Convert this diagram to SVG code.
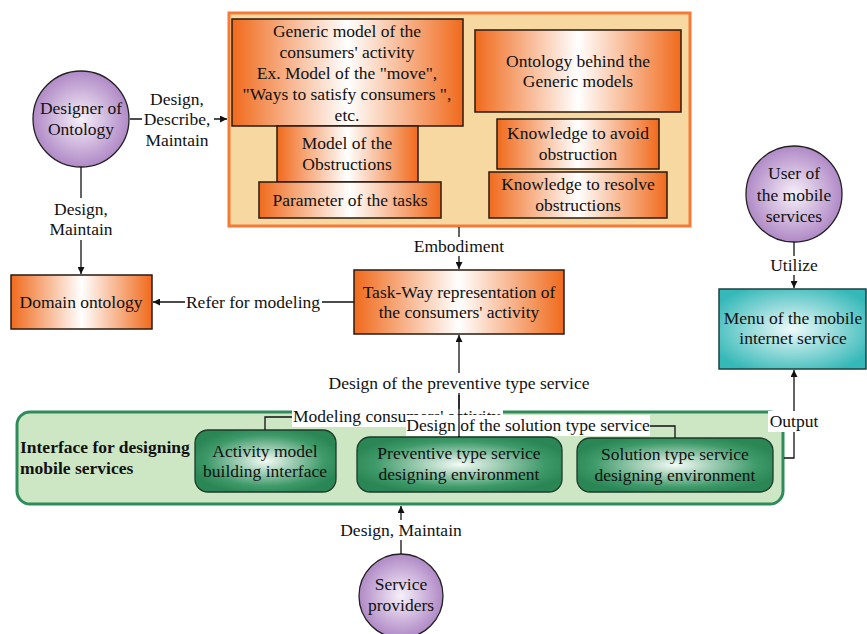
<svg xmlns="http://www.w3.org/2000/svg" width="867" height="634" viewBox="0 0 867 634">
<style>
text{font-family:"Liberation Serif","Times New Roman",serif;font-size:17.5px;fill:#111;text-anchor:middle}
.b{font-weight:bold;text-anchor:start}
.ob{fill:url(#og);stroke:#2a1a10;stroke-width:1.5}
.cir{fill:url(#pg);stroke:#222;stroke-width:1.3}
.gb{fill:url(#gg);stroke:#1e3a2a;stroke-width:1.3}
.ln{fill:none;stroke:#111;stroke-width:1.3}
.bg{fill:#fff}
</style>
<defs>
<linearGradient id="og" x1="0" y1="0" x2="1" y2="0">
<stop offset="0" stop-color="#f06a1c"/><stop offset="0.5" stop-color="#ffffff"/><stop offset="1" stop-color="#f06a1c"/>
</linearGradient>
<radialGradient id="pg" cx="0.5" cy="0.5" r="0.5">
<stop offset="0" stop-color="#f6f0f9"/><stop offset="1" stop-color="#b089c6"/>
</radialGradient>
<radialGradient id="gg" cx="0.5" cy="0.5" r="0.55">
<stop offset="0" stop-color="#f4fbf6"/><stop offset="0.75" stop-color="#3f9a6a"/><stop offset="1" stop-color="#2b8656"/>
</radialGradient>
<radialGradient id="tg" cx="0.5" cy="0.5" r="0.6">
<stop offset="0" stop-color="#effafa"/><stop offset="1" stop-color="#35b8b8"/>
</radialGradient>
<marker id="ar" viewBox="0 0 10 10" refX="10" refY="5" markerWidth="7" markerHeight="7" markerUnits="userSpaceOnUse" orient="auto">
<path d="M0,0 L10,5 L0,10 z" fill="#111"/>
</marker>
</defs>

<g id="ontology-container">
<rect x="229" y="13" width="461" height="213" fill="#f6d8a0" stroke="#f47a36" stroke-width="3"/>
</g>
<g id="generic-model">
<rect class="ob" x="232" y="19" width="231" height="107"/>
<text x="347" y="37">Generic model of the</text>
<text x="347" y="58">consumers' activity</text>
<text x="347" y="79">Ex. Model of the "move",</text>
<text x="347" y="100">"Ways to satisfy consumers ",</text>
<text x="347" y="121">etc.</text>
</g>
<g id="model-obstructions">
<rect class="ob" x="277" y="126" width="141" height="56"/>
<text x="347" y="149">Model of the</text>
<text x="347" y="170">Obstructions</text>
</g>
<g id="parameter-tasks">
<rect class="ob" x="259" y="182" width="182" height="36"/>
<text x="350" y="206">Parameter of the tasks</text>
</g>
<g id="ontology-behind">
<rect class="ob" x="475" y="30" width="206" height="82"/>
<text x="578" y="67">Ontology behind the</text>
<text x="578" y="87">Generic models</text>
</g>
<g id="knowledge-avoid">
<rect class="ob" x="497" y="119" width="162" height="50"/>
<text x="578" y="139">Knowledge to avoid</text>
<text x="578" y="160">obstruction</text>
</g>
<g id="knowledge-resolve">
<rect class="ob" x="489" y="172" width="178" height="46"/>
<text x="578" y="190">Knowledge to resolve</text>
<text x="578" y="211">obstructions</text>
</g>

<g id="designer-ontology">
<circle class="cir" cx="81" cy="119" r="48"/>
<text x="81" y="114">Designer of</text>
<text x="81" y="135">Ontology</text>
</g>
<g id="domain-ontology">
<rect class="ob" x="11" y="275" width="141" height="54"/>
<text x="81" y="308">Domain ontology</text>
</g>
<g id="task-way">
<rect class="ob" x="354" y="270" width="210" height="64"/>
<text x="459" y="298">Task-Way representation of</text>
<text x="459" y="318">the consumers' activity</text>
</g>
<g id="user-mobile">
<circle class="cir" cx="794" cy="194" r="48"/>
<text x="794" y="179">User of</text>
<text x="794" y="201">the mobile</text>
<text x="794" y="222">services</text>
</g>
<g id="menu-mobile">
<rect x="719" y="289" width="147" height="80" fill="url(#tg)" stroke="#1e4040" stroke-width="1.5"/>
<text x="793" y="324">Menu of the mobile</text>
<text x="793" y="344">internet service</text>
</g>

<g id="interface-container">
<rect x="17" y="412" width="766" height="92" rx="13" fill="#cde6c4" stroke="#2e8b5a" stroke-width="3"/>
<text class="b" x="20" y="453">Interface for designing</text>
<text class="b" x="20" y="474">mobile services</text>
</g>
<g id="activity-model">
<rect class="gb" x="195" y="430" width="141" height="62" rx="13"/>
<text x="265" y="457">Activity model</text>
<text x="265" y="477">building interface</text>
</g>
<g id="preventive-env">
<rect class="gb" x="357" y="437" width="205" height="55" rx="13"/>
<text x="459" y="459">Preventive type service</text>
<text x="459" y="480">designing environment</text>
</g>
<g id="solution-env">
<rect class="gb" x="577" y="438" width="196" height="54" rx="13"/>
<text x="675" y="460">Solution type service</text>
<text x="675" y="481">designing environment</text>
</g>
<g id="service-providers">
<circle class="cir" cx="401" cy="596" r="42"/>
<text x="401" y="590">Service</text>
<text x="401" y="611">providers</text>
</g>

<g id="connectors">
<path class="ln" d="M130,119 H227" marker-end="url(#ar)"/>
<rect class="bg" x="142" y="88" width="72" height="60"/>
<text x="177" y="105">Design,</text>
<text x="177" y="125">Describe,</text>
<text x="177" y="146">Maintain</text>

<path class="ln" d="M81,167 V274" marker-end="url(#ar)"/>
<rect class="bg" x="46" y="198" width="70" height="42"/>
<text x="81" y="215">Design,</text>
<text x="81" y="235">Maintain</text>

<path class="ln" d="M354,302 H153" marker-end="url(#ar)"/>
<rect class="bg" x="185" y="292" width="137" height="20"/>
<text x="253" y="308">Refer for modeling</text>

<path class="ln" d="M459,227 V269" marker-end="url(#ar)"/>
<rect class="bg" x="410" y="237" width="98" height="19"/>
<text x="459" y="252">Embodiment</text>

<path class="ln" d="M794,242 V288" marker-end="url(#ar)"/>
<rect class="bg" x="765" y="256" width="58" height="19"/>
<text x="794" y="271">Utilize</text>

<path class="ln" d="M459,437 V335" marker-end="url(#ar)"/>
<rect class="bg" x="326" y="373" width="266" height="20"/>
<text x="459" y="389">Design of the preventive type service</text>

<path class="ln" d="M784,458 H794 V370" marker-end="url(#ar)"/>
<rect class="bg" x="768" y="411" width="52" height="21"/>
<text x="794" y="427">Output</text>

<path class="ln" d="M401,554 V506" marker-end="url(#ar)"/>
<rect class="bg" x="338" y="520" width="126" height="20"/>
<text x="401" y="536">Design, Maintain</text>

<path class="ln" d="M265,430 V417 H295"/>
<rect class="bg" x="292" y="409" width="211" height="18"/>
<text x="293" y="422" style="text-anchor:start">Modeling consumers' activity</text>

<path class="ln" d="M648,426 H675 V438"/>
<rect class="bg" x="406" y="415" width="244" height="21"/>
<text x="528" y="431">Design of the solution type service</text>

<path class="ln" d="M459,395 V437"/>
</g>
</svg>
